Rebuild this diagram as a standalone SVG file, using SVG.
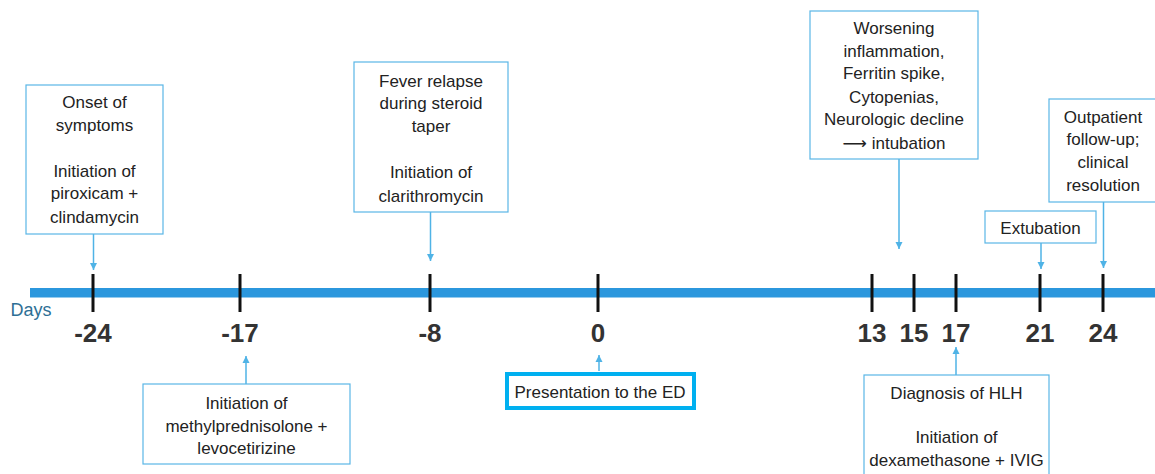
<svg xmlns="http://www.w3.org/2000/svg" width="1155" height="474" viewBox="0 0 1155 474">
<defs>
<style>
.box{fill:#fff;stroke:#5ab6e6;stroke-width:1.2}
.hl{fill:#fff;stroke:#00b0f0;stroke-width:4}
.t{font-family:"Liberation Sans","DejaVu Sans",Arial,sans-serif;font-size:17px;fill:#222;text-anchor:middle}
.tick{stroke:#111;stroke-width:3}
.lab{font-family:"Liberation Sans",Arial,sans-serif;font-size:26px;font-weight:bold;fill:#333;text-anchor:middle}
.conn{stroke:#4fb3e6;stroke-width:1.5;fill:none}
</style>
<marker id="ah" markerWidth="8" markerHeight="8" refX="7" refY="4" orient="auto" markerUnits="userSpaceOnUse" viewBox="0 0 8 8">
<path d="M0,0.5 L7,4 L0,7.5 Z" fill="#4fb3e6"/>
</marker>
</defs>
<rect width="1155" height="474" fill="#fff"/>

<g id="axis">
<rect x="30" y="288" width="1125" height="9.5" fill="#2b97dd"/>
<text x="31" y="316" font-family="Liberation Sans,Arial,sans-serif" font-size="18" fill="#2e6f95" text-anchor="middle">Days</text>
<line class="tick" x1="93" y1="274" x2="93" y2="312"/>
<line class="tick" x1="240" y1="274" x2="240" y2="312"/>
<line class="tick" x1="430" y1="274" x2="430" y2="312"/>
<line class="tick" x1="598" y1="274" x2="598" y2="312"/>
<line class="tick" x1="872" y1="274" x2="872" y2="312"/>
<line class="tick" x1="914" y1="274" x2="914" y2="312"/>
<line class="tick" x1="956" y1="274" x2="956" y2="312"/>
<line class="tick" x1="1040" y1="274" x2="1040" y2="312"/>
<line class="tick" x1="1103" y1="274" x2="1103" y2="312"/>
<text class="lab" x="93" y="342">-24</text>
<text class="lab" x="240" y="342">-17</text>
<text class="lab" x="430" y="342">-8</text>
<text class="lab" x="598" y="342">0</text>
<text class="lab" x="872" y="342">13</text>
<text class="lab" x="914" y="342">15</text>
<text class="lab" x="956" y="342">17</text>
<text class="lab" x="1040" y="342">21</text>
<text class="lab" x="1103" y="342">24</text>
</g>

<g id="connectors">
<line class="conn" x1="93.5" y1="234" x2="93.5" y2="270" marker-end="url(#ah)"/>
<line class="conn" x1="246" y1="384" x2="246" y2="356" marker-end="url(#ah)"/>
<line class="conn" x1="430.5" y1="212" x2="430.5" y2="261" marker-end="url(#ah)"/>
<line class="conn" x1="599" y1="371" x2="599" y2="355" marker-end="url(#ah)"/>
<line class="conn" x1="899" y1="159" x2="899" y2="249" marker-end="url(#ah)"/>
<line class="conn" x1="956" y1="375" x2="956" y2="347" marker-end="url(#ah)"/>
<line class="conn" x1="1041" y1="243" x2="1041" y2="269" marker-end="url(#ah)"/>
<line class="conn" x1="1103.5" y1="202" x2="1103.5" y2="268" marker-end="url(#ah)"/>
</g>

<g id="n-24">
<rect class="box" x="26" y="85" width="137" height="149"/>
<text class="t" x="94.5" y="108">Onset of</text>
<text class="t" x="94.5" y="131">symptoms</text>
<text class="t" x="94.5" y="177">Initiation of</text>
<text class="t" x="94.5" y="199">piroxicam +</text>
<text class="t" x="94.5" y="223">clindamycin</text>
</g>

<g id="n-17">
<rect class="box" x="143" y="384" width="207" height="80"/>
<text class="t" x="246.5" y="409">Initiation of</text>
<text class="t" x="246.5" y="432">methylprednisolone +</text>
<text class="t" x="246.5" y="454">levocetirizine</text>
</g>

<g id="n-8">
<rect class="box" x="354" y="62" width="154" height="150"/>
<text class="t" x="431" y="87">Fever relapse</text>
<text class="t" x="431" y="109">during steroid</text>
<text class="t" x="431" y="132">taper</text>
<text class="t" x="431" y="178">Initiation of</text>
<text class="t" x="431" y="202">clarithromycin</text>
</g>

<g id="n0">
<rect class="hl" x="507" y="374" width="187" height="34"/>
<text class="t" x="600" y="398">Presentation to the ED</text>
</g>

<g id="n13">
<rect class="box" x="810" y="11" width="168" height="148"/>
<text class="t" x="894" y="34">Worsening</text>
<text class="t" x="894" y="57">inflammation,</text>
<text class="t" x="894" y="79">Ferritin spike,</text>
<text class="t" x="894" y="103">Cytopenias,</text>
<text class="t" x="894" y="125">Neurologic decline</text>
<text class="t" x="894" y="149">⟶ intubation</text>
</g>

<g id="n17">
<rect class="box" x="864" y="375" width="185" height="110"/>
<text class="t" x="956.5" y="399">Diagnosis of HLH</text>
<text class="t" x="956.5" y="443">Initiation of</text>
<text class="t" x="956.5" y="466">dexamethasone + IVIG</text>
</g>

<g id="n21">
<rect class="box" x="985" y="211" width="111" height="32"/>
<text class="t" x="1040.5" y="234">Extubation</text>
</g>

<g id="n24">
<rect class="box" x="1049" y="99" width="120" height="103"/>
<text class="t" x="1103" y="123">Outpatient</text>
<text class="t" x="1103" y="145">follow-up;</text>
<text class="t" x="1103" y="168">clinical</text>
<text class="t" x="1103" y="191">resolution</text>
</g>
</svg>
